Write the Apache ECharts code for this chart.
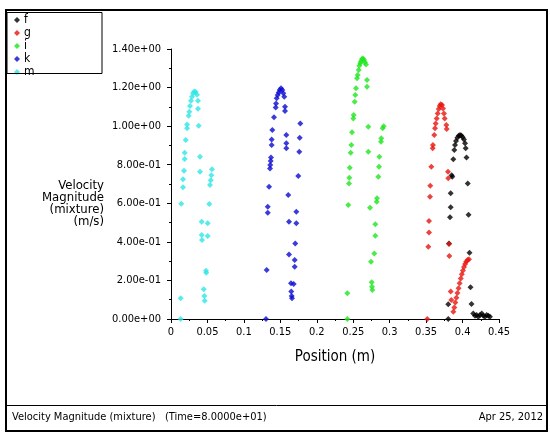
<!DOCTYPE html>
<html>
<head>
<meta charset="utf-8">
<script src="https://cdn.jsdelivr.net/npm/echarts@6/dist/echarts.min.js"></script>
<style>
  html, body { margin: 0; padding: 0; background: #fff; }
  #chart { width: 550px; height: 433px; }
</style>
</head>
<body>
<div id="chart"></div>
<script>
// Velocity magnitude (mixture) sampled along position, five monitor lines
const seriesNames = ['f', 'g', 'i', 'k', 'm'];
const seriesColors = ['#000000', '#e8140e', '#1ee61e', '#0a0ad2', '#2de6e6'];

const posF = [0.3804,0.3804,0.3814,0.3828,0.3837,0.3837,0.3859,0.3851,0.3873,0.3887,0.3896,0.3910,0.3928,0.3947,0.3965,0.3983,0.4002,0.4020,0.4034,0.4043,0.4054,0.4071,0.4082,0.4095,0.4109,0.4123,0.4147,0.4171,0.4194,0.4216,0.4239,0.4263,0.4285,0.4308,0.4331,0.4353,0.4376];
const velF = [0.000,0.076,0.392,0.527,0.579,0.652,0.738,0.746,0.828,0.876,0.902,0.923,0.940,0.950,0.954,0.952,0.943,0.931,0.911,0.885,0.837,0.703,0.541,0.344,0.164,0.078,0.029,0.017,0.021,0.012,0.021,0.029,0.017,0.012,0.021,0.017,0.012];

const posG = [0.3516,0.3530,0.3540,0.3540,0.3553,0.3557,0.3571,0.3590,0.3594,0.3612,0.3622,0.3631,0.3645,0.3659,0.3673,0.3686,0.3700,0.3718,0.3732,0.3745,0.3755,0.3777,0.3782,0.3800,0.3804,0.3814,0.3818,0.3837,0.3846,0.3873,0.3887,0.3901,0.3915,0.3930,0.3945,0.3960,0.3975,0.3990,0.4005,0.4020,0.4035,0.4050,0.4068,0.4088];
const velG = [0.000,0.375,0.449,0.508,0.634,0.691,0.790,0.885,0.902,0.954,0.989,1.014,1.040,1.066,1.089,1.104,1.113,1.109,1.092,1.066,1.040,1.006,0.985,0.764,0.730,0.389,0.327,0.142,0.098,0.038,0.060,0.085,0.110,0.135,0.160,0.185,0.210,0.232,0.252,0.270,0.285,0.297,0.306,0.310];

const posI = [0.2419,0.2419,0.2432,0.2442,0.2446,0.2452,0.2465,0.2474,0.2483,0.2501,0.2506,0.2520,0.2528,0.2538,0.2552,0.2561,0.2575,0.2583,0.2597,0.2607,0.2620,0.2634,0.2648,0.2661,0.2675,0.2689,0.2689,0.2707,0.2707,0.2730,0.2744,0.2753,0.2758,0.2762,0.2789,0.2803,0.2803,0.2822,0.2826,0.2844,0.2854,0.2858,0.2881,0.2885,0.2904,0.2918];
const velI = [0.000,0.133,0.591,0.703,0.733,0.784,0.862,0.902,0.968,1.040,1.058,1.127,1.161,1.196,1.248,1.265,1.291,1.313,1.326,1.337,1.348,1.351,1.343,1.331,1.320,1.239,1.204,0.997,0.867,0.577,0.297,0.190,0.167,0.150,0.340,0.432,0.491,0.608,0.626,0.738,0.790,0.841,0.919,0.937,0.989,1.000];

const posK = [0.1303,0.1313,0.1327,0.1327,0.1345,0.1358,0.1362,0.1368,0.1372,0.1381,0.1381,0.1390,0.1413,0.1436,0.1441,0.1450,0.1464,0.1478,0.1491,0.1509,0.1527,0.1541,0.1554,0.1564,0.1564,0.1582,0.1582,0.1582,0.1609,0.1619,0.1619,0.1646,0.1650,0.1656,0.1660,0.1683,0.1697,0.1697,0.1705,0.1719,0.1719,0.1746,0.1760,0.1766,0.1774];
const velK = [0.000,0.254,0.582,0.551,0.686,0.781,0.798,0.819,0.838,0.902,0.931,0.980,1.046,1.097,1.118,1.144,1.161,1.175,1.187,1.196,1.187,1.170,1.152,1.100,1.078,0.954,0.911,0.885,0.643,0.504,0.335,0.185,0.142,0.119,0.107,0.181,0.306,0.271,0.392,0.556,0.496,0.741,0.867,0.940,1.014];

const posM = [0.0133,0.0133,0.0141,0.0165,0.0165,0.0178,0.0188,0.0188,0.0202,0.0220,0.0220,0.0243,0.0251,0.0261,0.0274,0.0288,0.0302,0.0320,0.0339,0.0357,0.0370,0.0370,0.0380,0.0398,0.0398,0.0421,0.0421,0.0425,0.0449,0.0457,0.0462,0.0480,0.0484,0.0503,0.0503,0.0525,0.0535,0.0545,0.0553,0.0562];
const velM = [0.000,0.107,0.598,0.683,0.724,0.769,0.829,0.862,0.928,0.989,1.009,1.054,1.075,1.104,1.132,1.152,1.170,1.180,1.177,1.163,1.132,1.090,1.002,0.841,0.764,0.504,0.435,0.409,0.154,0.119,0.095,0.250,0.240,0.496,0.430,0.596,0.695,0.720,0.746,0.776];

const positions = [posF, posG, posI, posK, posM];
const velocities = [velF, velG, velI, velK, velM];

const yTicks = [0, 0.2, 0.4, 0.6, 0.8, 1.0, 1.2, 1.4];
const xTicks = [0, 0.05, 0.1, 0.15, 0.2, 0.25, 0.3, 0.35, 0.4, 0.45];

const footerLeft = 'Velocity Magnitude (mixture)   (Time=8.0000e+01)';
const footerRight = 'Apr 25, 2012';

const FONT = '"Liberation Sans Narrow", "DejaVu Sans Condensed", "Liberation Sans", sans-serif';

function sci(v) {
  if (Math.abs(v) < 1e-12) return '0.00e+00';
  const s = v.toExponential(2);
  const [m, e] = s.split('e');
  const sign = e[0] === '-' ? '-' : '+';
  const digits = e.replace(/[+-]/, '').padStart(2, '0');
  return m + 'e' + sign + digits;
}

function pairs(xs, ys) {
  return xs.map((x, i) => [x, ys[i]]);
}

const chart = echarts.init(document.getElementById('chart'), null, { renderer: 'canvas' });

const series = seriesNames.map((name, i) => ({
  name: name,
  type: 'scatter',
  symbol: 'diamond',
  symbolSize: 6,
  itemStyle: { color: seriesColors[i] },
  data: pairs(positions[i], velocities[i]),
  animation: false
}));

chart.setOption({
  backgroundColor: '#ffffff',
  animation: false,
  grid: { left: 171, right: 51, top: 49, bottom: 114, containLabel: false },
  legend: {
    orient: 'vertical',
    left: 14,
    top: 14,
    itemWidth: 6,
    itemHeight: 6,
    itemGap: 1,
    padding: 0,
    icon: 'diamond',
    data: seriesNames,
    textStyle: { fontFamily: FONT, fontSize: 12, color: '#000', padding: [0, 0, 0, -1], lineHeight: 11 }
  },
  xAxis: {
    type: 'value',
    min: 0,
    max: 0.45,
    interval: 0.05,
    name: 'Position (m)',
    nameLocation: 'middle',
    nameGap: 31,
    nameTextStyle: { fontFamily: FONT, fontSize: 15, color: '#000' },
    axisLine: { show: true, onZero: false, lineStyle: { color: '#000', width: 1 } },
    axisTick: { show: true, inside: false, length: 4, lineStyle: { color: '#000' } },
    minorTick: { show: true, splitNumber: 2, length: 2, lineStyle: { color: '#000' } },
    splitLine: { show: false },
    axisLabel: {
      fontFamily: FONT, fontSize: 11, color: '#000', margin: 8,
      formatter: v => {
        const r = Math.round(v * 100) / 100;
        return r === 0 ? '0' : String(r);
      }
    }
  },
  yAxis: {
    type: 'value',
    min: 0,
    max: 1.4,
    interval: 0.2,
    axisLine: { show: true, onZero: false, lineStyle: { color: '#000', width: 1 } },
    axisTick: { show: true, inside: false, length: 4, lineStyle: { color: '#000' } },
    minorTick: { show: true, splitNumber: 2, length: 2, lineStyle: { color: '#000' } },
    splitLine: { show: false },
    axisLabel: {
      fontFamily: FONT, fontSize: 11, color: '#000', margin: 10,
      formatter: v => sci(v)
    }
  },
  graphic: [
    // outer frame
    { type: 'rect', shape: { x: 6, y: 10, width: 541, height: 421 },
      style: { fill: null, stroke: '#000', lineWidth: 2 }, silent: true, z: 100 },
    // legend box
    { type: 'rect', shape: { x: 7, y: 12.5, width: 95, height: 61 },
      style: { fill: null, stroke: '#000', lineWidth: 1 }, silent: true, z: 100 },
    // footer divider
    { type: 'line', shape: { x1: 6, y1: 405.5, x2: 547, y2: 405.5 },
      style: { stroke: '#000', lineWidth: 1 }, silent: true, z: 100 },
    // y axis title, each line flush right
    { type: 'text', x: 104, y: 180, z: 100,
      style: { text: 'Velocity\nMagnitude\n(mixture)\n(m/s)', fill: '#000', align: 'right',
               verticalAlign: 'top', font: '13px ' + FONT, lineHeight: 12 } },
    // footer texts
    { type: 'text', left: 12, top: 412, z: 100,
      style: { text: footerLeft, fill: '#000', font: '11px ' + FONT } },
    { type: 'text', right: 7, top: 412, z: 100,
      style: { text: footerRight, fill: '#000', font: '11px ' + FONT, align: 'right' } }
  ],
  series: series
});
</script>
</body>
</html>
